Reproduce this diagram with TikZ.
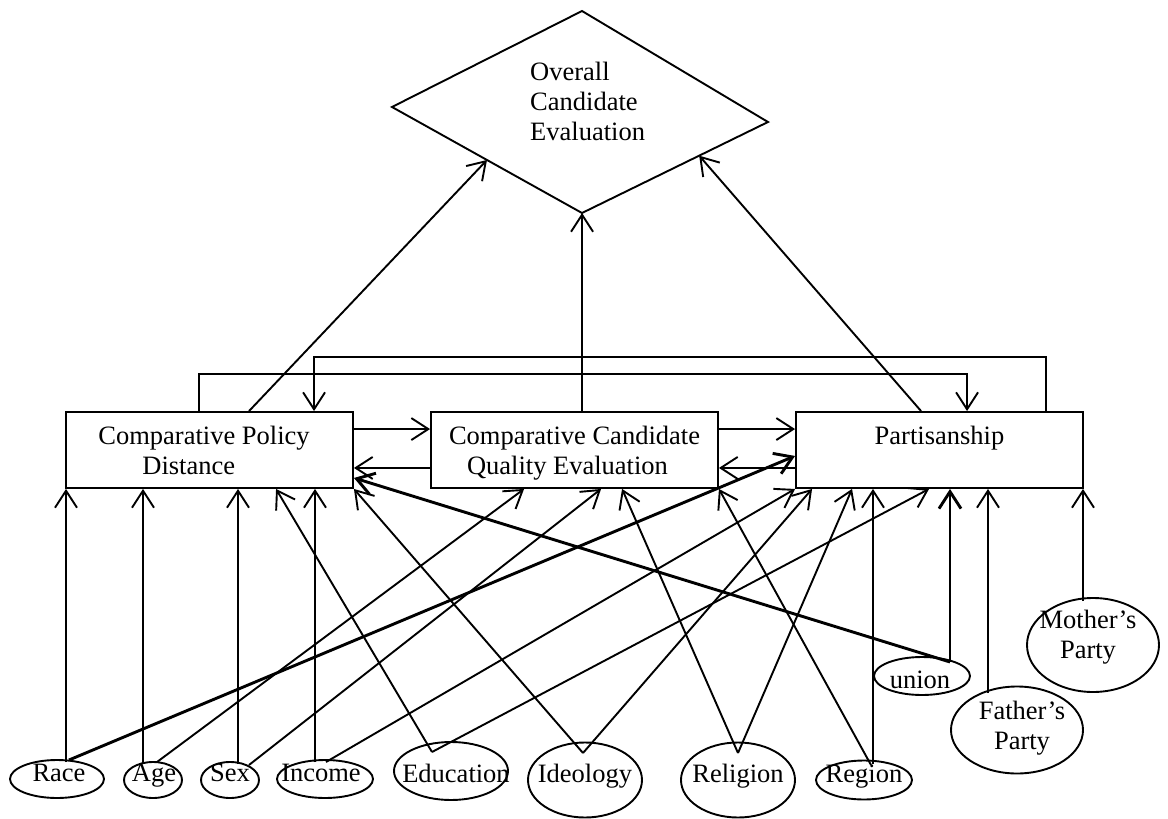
\documentclass[tikz,border=0pt]{standalone}
\usepackage{fontspec}
\setmainfont{Liberation Serif}
\usetikzlibrary{arrows.meta,shapes.geometric,calc}
\begin{document}
\begin{tikzpicture}[x=1pt,y=-1pt,
  every node/.style={font=\fontsize{26.5}{30}\selectfont},
  arr/.style={line width=1.9pt,-{Straight Barb[length=17pt,width=22pt]}},
  tarr/.style={line width=2.9pt,-{Straight Barb[length=17pt,width=22pt]}},
  box/.style={draw,line width=1.9pt,rectangle,minimum width=287pt,minimum height=76pt,inner sep=0pt,text depth=0pt},
  oval/.style={draw,line width=1.9pt,ellipse,inner sep=0pt},
  lbl/.style={inner sep=0pt,anchor=base},
]
\useasboundingbox (0,0) rectangle (1168,819);

% outcome diamond
\coordinate (ovl-t) at (582,11);
\coordinate (ovl-r) at (768,122);
\coordinate (ovl-b) at (582,213);
\coordinate (ovl-l) at (392,107);
\draw[line width=1.9pt] (ovl-t) -- (ovl-r) -- (ovl-b) -- (ovl-l) -- cycle;
\node[inner sep=0pt,align=left,anchor=base west] (ovl) at (530,140) {Overall\\Candidate\\Evaluation};

% the three mediating variables
\node[box,align=left] (cpd) at (209.5,450) {Comparative Policy\rule{11pt}{0pt}\\\hspace*{44pt}Distance};
\node[box,align=left] (ccq) at (574.5,450) {Comparative Candidate\\\hspace*{18pt}Quality Evaluation};
\node[box,align=center] (pty) at (939.5,450) {Partisanship\\\mbox{}};

% background variables
\node[oval,minimum width=94pt,minimum height=38pt] (race) at (57,779) {};
\node[lbl] (race-t) at (59,781) {Race};
\node[oval,minimum width=58pt,minimum height=36pt] (age) at (153,780) {};
\node[lbl] (age-t) at (154,781) {Age};
\node[oval,minimum width=58pt,minimum height=36pt] (sex) at (230,780) {};
\node[lbl] (sex-t) at (230,781) {Sex};
\node[oval,minimum width=96pt,minimum height=38pt] (inc) at (325,779) {};
\node[lbl] (inc-t) at (321,781) {Income};
\node[oval,minimum width=114pt,minimum height=58pt] (edu) at (451,771) {};
\node[lbl] (edu-t) at (456,782) {Education};
\node[oval,minimum width=114pt,minimum height=75pt] (ideo) at (585,780) {};
\node[lbl] (ideo-t) at (585,782) {Ideology};
\node[oval,minimum width=114pt,minimum height=75pt] (rel) at (738,780) {};
\node[lbl] (rel-t) at (738,782) {Religion};
\node[oval,minimum width=96pt,minimum height=39pt] (reg) at (864,780) {};
\node[lbl] (reg-t) at (864,782) {Region};
\node[oval,minimum width=96pt,minimum height=38pt] (uni) at (922,676) {};
\node[lbl] (uni-t) at (920,688) {union};
\node[oval,minimum width=132pt,minimum height=87pt] (fath) at (1017,730) {};
\node[lbl,align=center] (fath-t) at (1022,749) {Father’s\\Party};
\node[oval,minimum width=132pt,minimum height=94pt] (moth) at (1093,645) {};
\node[lbl,align=center] (moth-t) at (1088,658) {Mother’s\\Party};

% where the paths leave the ovals
\coordinate (race-a) at (66,762);
\coordinate (race-b) at (69,760);
\coordinate (age-a) at (143,763);
\coordinate (age-b) at (157,762);
\coordinate (sex-a) at (238,764);
\coordinate (sex-b) at (249,765);
\coordinate (inc-a) at (315,762);
\coordinate (inc-b) at (326,762);
\coordinate (edu-v) at (432,752);
\coordinate (ideo-v) at (583,753);
\coordinate (rel-v) at (738,753);
\coordinate (reg-a) at (873,764);
\coordinate (reg-v) at (871,765);
\coordinate (uni-v) at (950,662);
\coordinate (fath-a) at (988,693);
\coordinate (moth-a) at (1083,601);

% paths into Comparative Policy Distance
\draw[arr] (race-a) -- (race-a |- cpd.south);
\draw[arr] (age-a) -- (age-a |- cpd.south);
\draw[arr] (sex-a) -- (sex-a |- cpd.south);
\draw[arr] (inc-a) -- (inc-a |- cpd.south);
\draw[arr] (edu-v) -- ([xshift=211pt]cpd.south west);
\draw[arr] (ideo-v) -- (cpd.south east);
\draw[tarr] (uni-v) -- ([yshift=11pt]cpd.south east);

% paths into Comparative Candidate Quality Evaluation
\draw[arr] (age-b) -- ([xshift=94pt]ccq.south west);
\draw[arr] (sex-b) -- ([xshift=171pt]ccq.south west);
\draw[arr] (rel-v) -- ([xshift=192pt]ccq.south west);
\draw[arr] (reg-v) -- (ccq.south east);

% paths into Partisanship
\draw[tarr] (race-b) -- ([yshift=33pt]pty.south west);
\draw[arr] (inc-b) -- (pty.south west);
\draw[arr] (ideo-v) -- ([xshift=17pt]pty.south west);
\draw[arr] (rel-v) -- ([xshift=57pt]pty.south west);
\draw[arr] (reg-a) -- (reg-a |- pty.south);
\draw[arr] (edu-v) -- ([xshift=134pt]pty.south west);
\draw[tarr] (uni-v) -- (uni-v |- pty.south);
\draw[arr] (fath-a) -- (fath-a |- pty.south);
\draw[arr] (moth-a) -- (moth-a |- pty.south);

% reciprocal paths between the mediators
\draw[arr] ([yshift=-18pt]cpd.north east) -- ([yshift=-18pt]ccq.north west);
\draw[arr] ([yshift=21pt]ccq.south west) -- ([yshift=21pt]cpd.south east);
\draw[arr] ([yshift=-18pt]ccq.north east) -- ([yshift=-18pt]pty.north west);
\draw[arr] ([yshift=21pt]pty.south west) -- ([yshift=21pt]ccq.south east);
\draw[arr] ([xshift=134pt]cpd.north west) -- ++(0,-37) -| ([xshift=172pt]pty.north west);
\draw[arr] ([xshift=251pt]pty.north west) -- ++(0,-54) -| ([xshift=249pt]cpd.north west);

% paths into the overall evaluation
\coordinate (ccq-top) at ([xshift=152pt]ccq.north west);
\draw[arr] ([xshift=184pt]cpd.north west) -- ($(ovl-l)!0.5!(ovl-b)$);
\draw[arr] (ccq-top) -- (ccq-top |- ovl-b);
\draw[arr] ([xshift=126pt]pty.north west) -- ($(ovl-r)!0.37!(ovl-b)$);
\end{tikzpicture}
\end{document}
